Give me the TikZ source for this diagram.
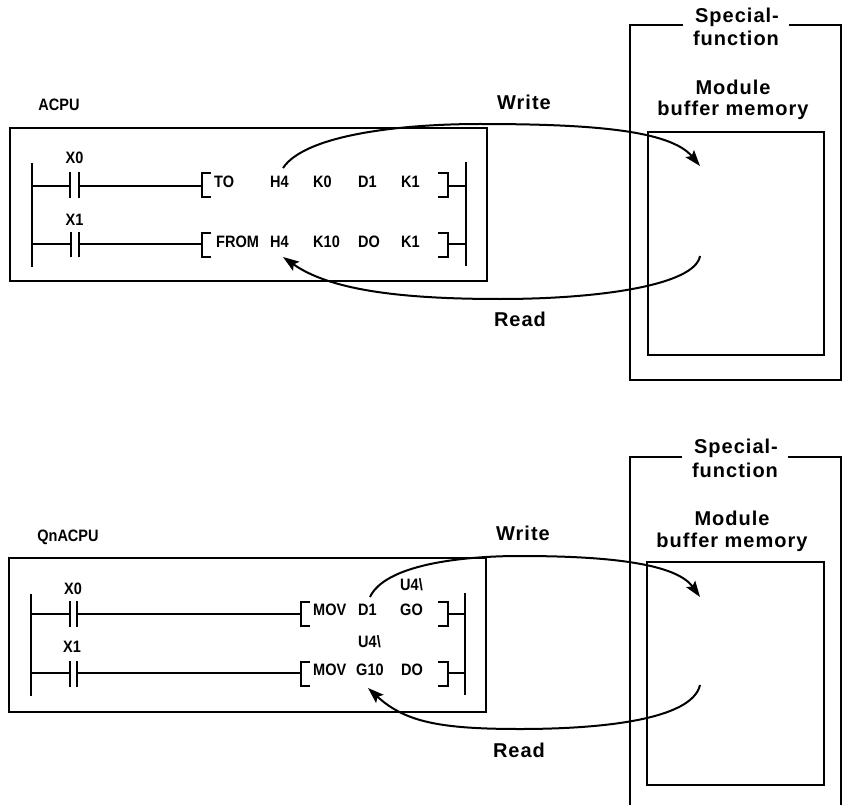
\documentclass[tikz,border=0pt]{standalone}
\usepackage{fontspec}
\setmainfont{Liberation Sans}
\newfontfamily\biglabel[LetterSpace=5]{Liberation Sans Bold}
\newfontfamily\smalllabel[FakeStretch=0.88]{Liberation Sans Bold}
\usetikzlibrary{arrows.meta}
\tikzset{
  bigtext/.style={inner sep=0pt,font=\biglabel\fontsize{20}{22}\selectfont},
  smalltext/.style={inner sep=0pt,font=\smalllabel\fontsize{16.5}{18}\selectfont},
  frame/.style={line width=1.7pt,black},
  wire/.style={line width=1.7pt,black},
  flow/.style={line width=2pt,black,-{Stealth[length=16pt,width=11pt,inset=3pt]}}
}
\begin{document}
\begin{tikzpicture}[x=1pt,y=-1pt]
\useasboundingbox (0,0) rectangle (843,805);
% ---------- upper diagram ----------
\node[smalltext] (acpu) at (59,105) {ACPU};
\draw[frame] (10,128) rectangle (487,281);
\coordinate (aLT) at (32,163); \coordinate (aLB) at (32,267);
\coordinate (aRT) at (466,162); \coordinate (aRB) at (466,266);
\draw[wire] (aLT) -- (aLB); \draw[wire] (aRT) -- (aRB);
\node[smalltext] (ax0) at (74.5,158) {X0};
\node[smalltext] (ax1) at (74.5,220) {X1};
\draw[wire] (32,186) -- (70,186) (70,172) -- (70,198) (79,172) -- (79,198) (79,186) -- (202,186);
\draw[wire] (32,244) -- (71,244) (71,232) -- (71,257) (79,232) -- (79,257) (79,244) -- (202,244);
\draw[wire] (211,173) -- (202,173) -- (202,197) -- (211,197);
\draw[wire] (211,233) -- (202,233) -- (202,257) -- (211,257);
\draw[wire] (438,173) -- (448,173) -- (448,197) -- (438,197) (448,186) -- (466,186);
\draw[wire] (438,233) -- (448,233) -- (448,257) -- (438,257) (448,244) -- (466,244);
\node[smalltext,anchor=west] (a1) at (214,182) {TO};
\node[smalltext,anchor=west] (a2) at (270,182) {H4};
\node[smalltext,anchor=west] (a3) at (313,182) {K0};
\node[smalltext,anchor=west] (a4) at (358,182) {D1};
\node[smalltext,anchor=west] (a5) at (401,182) {K1};
\node[smalltext,anchor=west] (b1) at (216,242) {FROM};
\node[smalltext,anchor=west] (b2) at (270,242) {H4};
\node[smalltext,anchor=west] (b3) at (313,242) {K10};
\node[smalltext,anchor=west] (b4) at (358,242) {DO};
\node[smalltext,anchor=west] (b5) at (401,242) {K1};
% module box
\coordinate (mTL) at (630,25); \coordinate (mTR) at (841,25);
\draw[frame] (683,25) -- (mTL) -- (630,380) -- (841,380) -- (mTR) -- (789,25);
\draw[frame] (648,132) rectangle (824,355);
\node[bigtext] (s1) at (737,17) {Special-};
\node[bigtext] (s2) at (736,38) {function};
\node[bigtext] (m1) at (733,87) {Module};
\node[bigtext] (m2) at (733,110) {buffer memory};
\node[bigtext] (w1) at (524,102) {Write};
\node[bigtext] (r1) at (520,319) {Read};
\coordinate (aws) at (283,168); \coordinate (awm) at (480,124); \coordinate (awe) at (700,166);
\coordinate (ars) at (700,256); \coordinate (arm) at (500,299); \coordinate (are) at (283,257);
\draw[flow] (aws) .. controls (305,135) and (400,124) .. (awm) .. controls (590,124) and (670,130) .. (awe);
\draw[flow] (ars) .. controls (695,285) and (600,299) .. (arm) .. controls (400,299) and (330,290) .. (are);
% ---------- lower diagram ----------
\node[smalltext] (qcpu) at (68,537) {QnACPU};
\draw[frame] (9,558) rectangle (486,712);
\coordinate (qLT) at (31,594); \coordinate (qLB) at (31,696);
\coordinate (qRT) at (465,593); \coordinate (qRB) at (465,695);
\draw[wire] (qLT) -- (qLB); \draw[wire] (qRT) -- (qRB);
\node[smalltext] (qx0) at (73,589) {X0};
\node[smalltext] (qx1) at (72,647) {X1};
\draw[wire] (31,614) -- (70,614) (70,601) -- (70,627) (77,601) -- (77,627) (77,614) -- (301,614);
\draw[wire] (31,673) -- (70,673) (70,661) -- (70,687) (77,661) -- (77,687) (77,673) -- (301,673);
\draw[wire] (310,602) -- (301,602) -- (301,626) -- (310,626);
\draw[wire] (310,662) -- (301,662) -- (301,686) -- (310,686);
\draw[wire] (438,602) -- (448,602) -- (448,626) -- (438,626) (448,614) -- (465,614);
\draw[wire] (438,662) -- (448,662) -- (448,686) -- (438,686) (448,673) -- (465,673);
\node[smalltext,anchor=west] (c1) at (313,610) {MOV};
\node[smalltext,anchor=west] (c2) at (358,610) {D1};
\node[smalltext,anchor=west] (c3) at (400,610) {GO};
\node[smalltext,anchor=west] (u1) at (400,585) {U4\textbackslash};
\node[smalltext,anchor=west] (u2) at (358,642) {U4\textbackslash};
\node[smalltext,anchor=west] (d1) at (313,670) {MOV};
\node[smalltext,anchor=west] (d2) at (356,670) {G10};
\node[smalltext,anchor=west] (d3) at (401,670) {DO};
% module box (runs off the bottom edge)
\draw[frame] (682,457) -- (630,457) -- (630,805);
\draw[frame] (788,457) -- (841,457) -- (841,805);
\draw[frame] (647,562) rectangle (824,785);
\node[bigtext] (qs1) at (736,448) {Special-};
\node[bigtext] (qs2) at (735,470) {function};
\node[bigtext] (qm1) at (732,518) {Module};
\node[bigtext] (qm2) at (732,542) {buffer memory};
\node[bigtext] (qw1) at (523,533) {Write};
\node[bigtext] (qr1) at (519,750) {Read};
\coordinate (qws) at (370,597); \coordinate (qwm) at (520,556); \coordinate (qwe) at (700,597);
\coordinate (qrs) at (700,685); \coordinate (qrm) at (520,729); \coordinate (qre) at (368,688);
\draw[flow] (qws) .. controls (385,565) and (460,556) .. (qwm) .. controls (600,556) and (675,562) .. (qwe);
\draw[flow] (qrs) .. controls (692,720) and (600,729) .. (qrm) .. controls (440,729) and (405,722) .. (qre);
\end{tikzpicture}
\end{document}
